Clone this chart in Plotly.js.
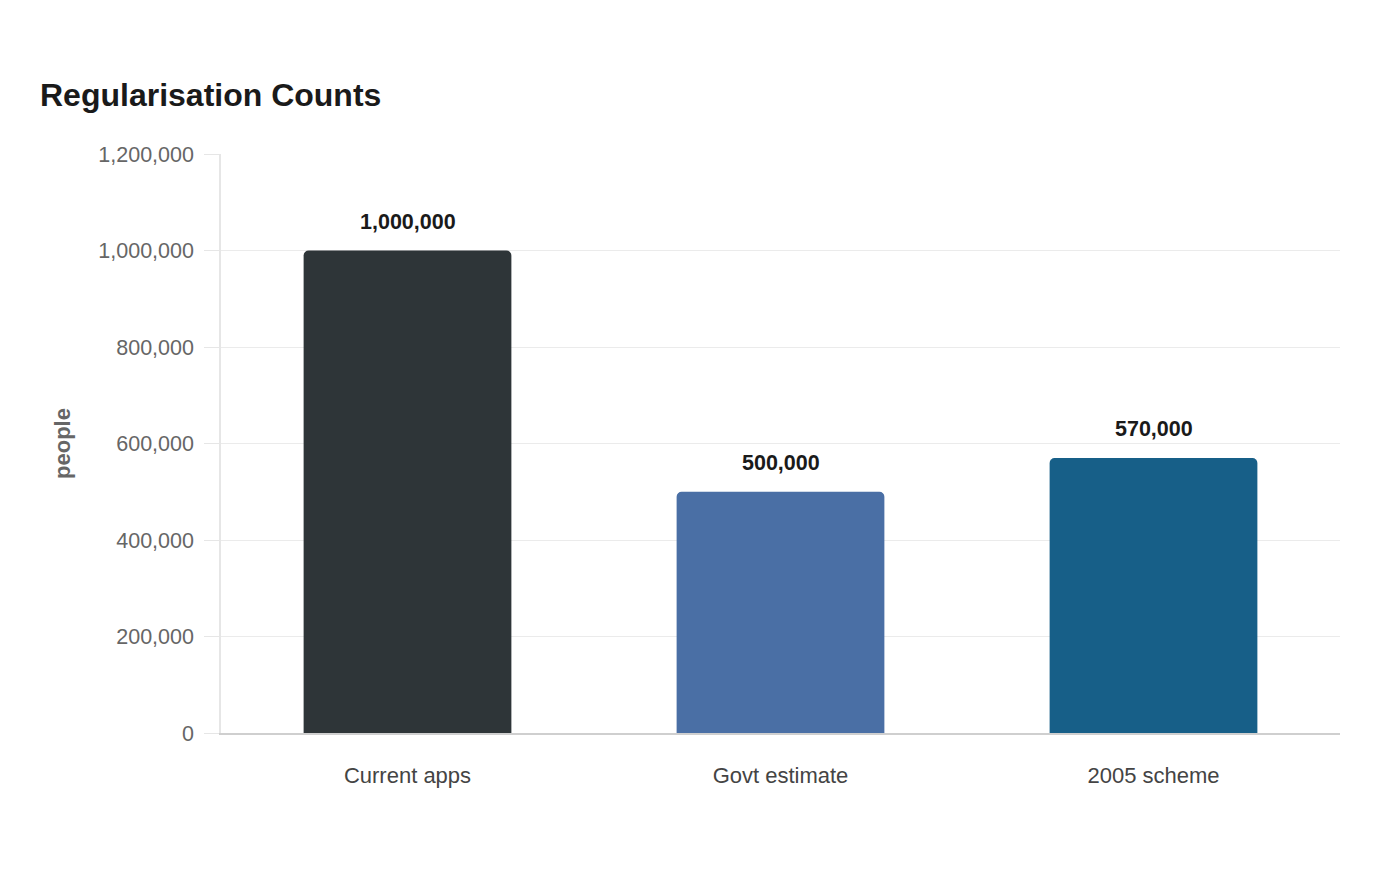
<!DOCTYPE html>
<html>
<head>
<meta charset="utf-8">
<script src="https://cdn.plot.ly/plotly-3.0.1.min.js"></script>
<style>html,body{margin:0;padding:0;background:#fff;}#chart{width:1400px;height:880px;}</style>
</head>
<body>
<div id="chart"></div>
<script>
const categories = ["Current apps", "Govt estimate", "2005 scheme"];
const values = [1000000, 500000, 570000];
const barColors = ["#2E3538", "#4A6FA5", "#175F88"];
const labels = values.map(v => v.toLocaleString("en-US"));
const yTickVals = [0, 200000, 400000, 600000, 800000, 1000000, 1200000];

const FONT = "Liberation Sans, Arial, sans-serif";

const trace = {
  type: "bar",
  x: categories,
  y: values,
  marker: { color: barColors, line: { width: 0 }, cornerradius: 5 },
  hoverinfo: "x+y",
  showlegend: false
};

const annotations = categories.map((c, i) => ({
  x: c, y: values[i], xref: "x", yref: "y",
  text: "<b>" + labels[i] + "</b>",
  showarrow: false, yanchor: "middle", yshift: 29,
  font: { family: FONT, size: 21.5, color: "#1a1a1a" }
}));

const layout = {
  width: 1400, height: 880,
  paper_bgcolor: "#ffffff", plot_bgcolor: "#ffffff",
  margin: { l: 221, r: 60, t: 154, b: 147, pad: 0 },
  title: {
    text: "<b>Regularisation Counts</b>",
    x: 40 / 1400, xanchor: "left", xref: "container",
    y: 1 - 95 / 880, yanchor: "middle", yref: "container",
    font: { family: FONT, size: 32, color: "#1a1a1a" }
  },
  bargap: 0.443,
  xaxis: {
    type: "category",
    showline: true, linecolor: "#cfcfcf", linewidth: 1.5,
    showgrid: false, ticks: "", ticklabelstandoff: 22,
    tickfont: { family: FONT, size: 22, color: "#444444" },
    fixedrange: true
  },
  yaxis: {
    range: [0, 1200000],
    tickvals: yTickVals,
    tickformat: ",d",
    showline: true, linecolor: "#e6e6e6", linewidth: 1.5,
    showgrid: true, gridcolor: "#ebebeb", gridwidth: 1,
    zeroline: false,
    ticks: "outside", ticklen: 15, tickcolor: "#e6e6e6", tickwidth: 1,
    ticklabelstandoff: 6,
    tickfont: { family: FONT, size: 21.5, color: "#666666" },
    title: { text: "<b>people</b>", standoff: 22, font: { family: FONT, size: 22, color: "#666666" } },
    fixedrange: true
  },
  annotations: annotations,
  font: { family: FONT }
};

Plotly.newPlot("chart", [trace], layout, { displayModeBar: false, staticPlot: false });
</script>
</body>
</html>
